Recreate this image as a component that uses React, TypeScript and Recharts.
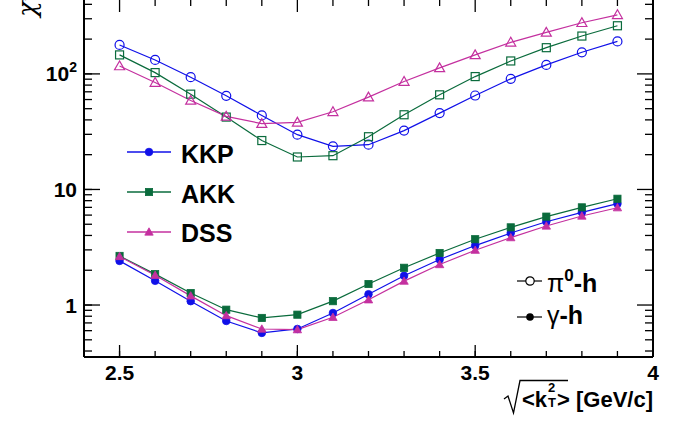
import { LineChart, Line, XAxis, YAxis, ReferenceLine } from 'recharts'

const X_VALUES = [2.5, 2.6, 2.7, 2.8, 2.9, 3.0, 3.1, 3.2, 3.3, 3.4, 3.5, 3.6, 3.7, 3.8, 3.9]

// pi0-h (open markers)
const KKP_PI0 = [178, 132, 93.6, 64.6, 43.7, 29.8, 23.6, 24.4, 32.3, 45.8, 65, 90.6, 119.6, 153.8, 191]
const AKK_PI0 = [146, 102.6, 66.8, 42.3, 26.5, 19.1, 19.6, 28.6, 44.3, 65.9, 94.8, 129.4, 168.6, 212.6, 261]
const DSS_PI0 = [117, 84.2, 58.9, 42.9, 37.1, 38.1, 47, 63, 85.9, 112.7, 146, 187.6, 228.7, 277, 324.6]

// gamma-h (filled markers)
const KKP_GAM = [2.41, 1.62, 1.08, 0.728, 0.574, 0.621, 0.853, 1.24, 1.79, 2.48, 3.27, 4.2, 5.26, 6.34, 7.53]
const AKK_GAM = [2.66, 1.85, 1.27, 0.911, 0.773, 0.825, 1.08, 1.52, 2.1, 2.82, 3.71, 4.7, 5.82, 7.0, 8.31]
const DSS_GAM = [2.63, 1.81, 1.2, 0.809, 0.62, 0.612, 0.783, 1.11, 1.61, 2.24, 2.98, 3.83, 4.83, 5.89, 6.95]

const X_TICKS = [2.4, 2.5, 2.6, 2.7, 2.8, 2.9, 3.0, 3.1, 3.2, 3.3, 3.4, 3.5, 3.6, 3.7, 3.8, 3.9, 4.0]
const Y_TICKS = [
  0.4, 0.5, 0.6, 0.7, 0.8, 0.9, 1, 2, 3, 4, 5, 6, 7, 8, 9,
  10, 20, 30, 40, 50, 60, 70, 80, 90, 100, 200, 300, 400,
]
const X_DOMAIN = [2.4, 4.0]
const Y_DOMAIN = [0.355, 436]

const FONT = '"Liberation Sans", Arial, Helvetica, sans-serif'
const BLUE = '#1010e8'
const GREEN = '#0a6b3c'
const MAGENTA = '#c4309f'

const CHART_W = 688
const CHART_H = 423
const MARGIN = { top: 0, right: 35, bottom: 36, left: 0 }
const Y_AXIS_W = 84
const X_AXIS_H = 30
const PLOT_W = CHART_W - MARGIN.left - MARGIN.right - Y_AXIS_W
const PLOT_H = CHART_H - MARGIN.top - MARGIN.bottom - X_AXIS_H
// pixel tick lengths turned into data units for the mirrored/major tick segments
const PX_PER_X = PLOT_W / (X_DOMAIN[1] - X_DOMAIN[0])
const PX_PER_DEC = PLOT_H / Math.log10(Y_DOMAIN[1] / Y_DOMAIN[0])
const MINOR_X = 6
const MINOR_Y = 8

const DATA = X_VALUES.map((x, i) => ({
  x,
  kkpPi0: KKP_PI0[i], akkPi0: AKK_PI0[i], dssPi0: DSS_PI0[i],
  kkpGam: KKP_GAM[i], akkGam: AKK_GAM[i], dssGam: DSS_GAM[i],
}))

type Shape = 'circle' | 'square' | 'triangle'

function Marker({ cx, cy, shape, color, filled }: { cx: number; cy: number; shape: Shape; color: string; filled: boolean }) {
  const fill = filled ? color : 'none'
  const sw = filled ? 0.8 : 1.2
  if (shape === 'circle') {
    return <circle cx={cx} cy={cy} r={filled ? 3.8 : 4.5} fill={fill} stroke={color} strokeWidth={sw} />
  }
  if (shape === 'square') {
    const h = filled ? 3.6 : 4
    return <rect x={cx - h} y={cy - h} width={h * 2} height={h * 2} fill={fill} stroke={color} strokeWidth={sw} />
  }
  const s = filled ? 4.2 : 5
  return (
    <polygon
      points={`${cx},${cy - s} ${cx - s},${cy + s * 0.75} ${cx + s},${cy + s * 0.75}`}
      fill={fill} stroke={color} strokeWidth={sw}
    />
  )
}

const dotFn = (shape: Shape, color: string, filled: boolean) => (p: any) => (
  <Marker key={`${shape}-${filled}-${p.index}`} cx={p.cx} cy={p.cy} shape={shape} color={color} filled={filled} />
)

const isMajorX = (v: number) => Math.abs(v * 2 - Math.round(v * 2)) < 1e-6 && v > 2.45
const isMajorY = (v: number) => v === 1 || v === 10 || v === 100
const xLen = (v: number) => (isMajorX(v) ? 12 : MINOR_X)
const yLen = (v: number) => (isMajorY(v) ? 16 : MINOR_Y)

// labels only; the tick lines come from the axis itself (negative tickSize = inward)
function BottomLabel(p: any) {
  const v = p.payload.value
  if (!isMajorX(v)) return <g />
  return (
    <text x={p.x} y={Number(p.y) + MINOR_X + 23} textAnchor="middle" fontSize={21} fontWeight="bold" fontFamily={FONT} fill="#000">
      {String(Math.round(v * 10) / 10)}
    </text>
  )
}

function LeftLabel(p: any) {
  const v = p.payload.value
  if (!isMajorY(v)) return <g />
  return (
    <text x={Number(p.x) - MINOR_Y - 7} y={Number(p.y) + 7.5} textAnchor="end" fontSize={21} fontWeight="bold" fontFamily={FONT} fill="#000">
      {v === 100 ? (
        <>
          10<tspan fontSize={14} dy={-9}>2</tspan>
        </>
      ) : String(v)}
    </text>
  )
}

const AXIS_LINE = { stroke: '#000', strokeWidth: 2 }
const TICK_LINE = { stroke: '#000', strokeWidth: 1.3 }

const SERIES: { key: string; color: string; shape: Shape; filled: boolean }[] = [
  { key: 'kkpPi0', color: BLUE, shape: 'circle', filled: false },
  { key: 'akkPi0', color: GREEN, shape: 'square', filled: false },
  { key: 'dssPi0', color: MAGENTA, shape: 'triangle', filled: false },
  { key: 'kkpGam', color: BLUE, shape: 'circle', filled: true },
  { key: 'akkGam', color: GREEN, shape: 'square', filled: true },
  { key: 'dssGam', color: MAGENTA, shape: 'triangle', filled: true },
]

const LEGEND = [
  { label: 'KKP', color: BLUE, shape: 'circle' as Shape, y: 152, base: 162.5 },
  { label: 'AKK', color: GREEN, shape: 'square' as Shape, y: 192, base: 202.5 },
  { label: 'DSS', color: MAGENTA, shape: 'triangle' as Shape, y: 232, base: 241.5 },
]

// tick segments for the frame: major extensions on left/bottom, mirrored ticks on right/top
const [X0, X1] = X_DOMAIN
const [Y0, Y1] = Y_DOMAIN
const yUp = (px: number) => Math.pow(10, px / PX_PER_DEC)
const TICK_SEGMENTS = [
  ...Y_TICKS.filter(isMajorY).map((v) => [{ x: X0, y: v }, { x: X0 + yLen(v) / PX_PER_X, y: v }]),
  ...Y_TICKS.map((v) => [{ x: X1 - yLen(v) / PX_PER_X, y: v }, { x: X1, y: v }]),
  ...X_TICKS.filter(isMajorX).map((v) => [{ x: v, y: Y0 }, { x: v, y: Y0 * yUp(xLen(v)) }]),
  ...X_TICKS.map((v) => [{ x: v, y: Y1 / yUp(xLen(v)) }, { x: v, y: Y1 }]),
]

function Piece({ left, top, w, h, children }: { left: number; top: number; w: number; h: number; children: any }) {
  return (
    <svg width={w} height={h} style={{ position: 'absolute', left, top, overflow: 'visible', pointerEvents: 'none' }}>
      {children}
    </svg>
  )
}

export default function App() {
  return (
    <div style={{ position: 'fixed', left: 0, top: 0, width: 688, height: 423, overflow: 'hidden', background: '#fff' }}>
      <LineChart width={CHART_W} height={CHART_H} data={DATA} margin={MARGIN}>
        <XAxis
          dataKey="x" type="number" domain={X_DOMAIN}
          ticks={X_TICKS} interval={0} tickSize={-MINOR_X} tickMargin={0} height={X_AXIS_H}
          axisLine={AXIS_LINE} tickLine={TICK_LINE} tick={(p: any) => <BottomLabel {...p} />}
        />
        <YAxis
          type="number" scale="log" domain={Y_DOMAIN} allowDataOverflow
          ticks={Y_TICKS} interval={0} tickSize={-MINOR_Y} tickMargin={0} width={Y_AXIS_W}
          axisLine={AXIS_LINE} tickLine={TICK_LINE} tick={(p: any) => <LeftLabel {...p} />}
        />
        <ReferenceLine x={X1} stroke="#000" strokeWidth={2} ifOverflow="visible" />
        {TICK_SEGMENTS.map((seg, i) => (
          <ReferenceLine key={`seg-${i}`} segment={seg} stroke="#000" strokeWidth={1.3} ifOverflow="visible" />
        ))}
        {SERIES.map((s) => (
          <Line
            key={s.key} dataKey={s.key} type="linear" stroke={s.color} strokeWidth={1.2}
            dot={dotFn(s.shape, s.color, s.filled)} activeDot={false} isAnimationActive={false}
          />
        ))}
      </LineChart>

      {LEGEND.map((l) => (
        <Piece key={l.label} left={125} top={l.y - 20} w={120} h={40}>
          <line x1={2} y1={20} x2={46} y2={20} stroke={l.color} strokeWidth={1.5} />
          <Marker cx={24} cy={20} shape={l.shape} color={l.color} filled />
          <text x={56} y={l.base - l.y + 20} fontSize={25} fontWeight="bold" fontFamily={FONT} fill="#000">{l.label}</text>
        </Piece>
      ))}

      <Piece left={515} top={262} w={110} h={70}>
        <line x1={2} y1={19} x2={27} y2={19} stroke="#000" strokeWidth={1.2} />
        <circle cx={15} cy={19} r={4.2} fill="#fff" stroke="#000" strokeWidth={1.2} />
        <text x={32} y={30} fontSize={25} fontFamily={FONT} fill="#000">
          π<tspan fontWeight="bold" fontSize={17} dy={-11}>0</tspan>
          <tspan fontWeight="bold" dy={11}>-h</tspan>
        </text>
        <line x1={2} y1={55} x2={27} y2={55} stroke="#000" strokeWidth={1.2} />
        <circle cx={15} cy={55} r={3.8} fill="#000" />
        <text x={32} y={62} fontSize={25} fontFamily={FONT} fill="#000">
          γ<tspan fontWeight="bold">-h</tspan>
        </text>
      </Piece>

      <Piece left={0} top={0} w={60} h={30}>
        <text transform="translate(36,17) rotate(-90)" fontSize={26} fontStyle="italic" fontFamily="'DejaVu Serif', serif" fill="#000">
          χ<tspan fontSize={16} fontStyle="normal" dy={-10}>2</tspan>
        </text>
      </Piece>

      <Piece left={500} top={376} w={160} h={42}>
        <path d="M4,23 L8,20 L13.5,37 L20,4.5 L68,4.5" stroke="#000" strokeWidth={1.3} fill="none" />
        <text x={22} y={31} fontSize={22} fontWeight="bold" fontFamily={FONT} fill="#000">&lt;k</text>
        <text x={48} y={16} fontSize={13} fontWeight="bold" fontFamily={FONT} fill="#000">2</text>
        <text x={48} y={31} fontSize={13} fontWeight="bold" fontFamily={FONT} fill="#000">T</text>
        <text x={57} y={31} fontSize={22} fontWeight="bold" fontFamily={FONT} fill="#000">&gt; [GeV/c]</text>
      </Piece>
    </div>
  )
}
